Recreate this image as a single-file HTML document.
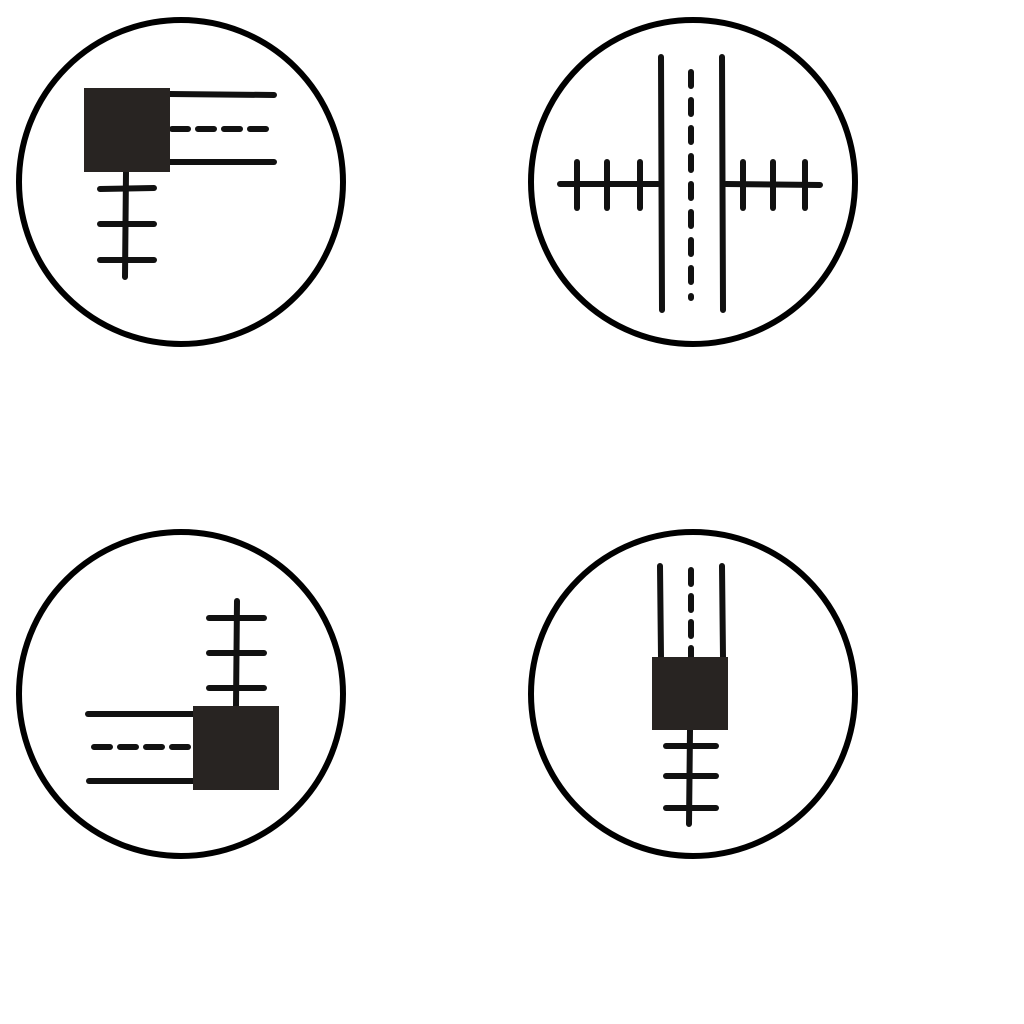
<!DOCTYPE html>
<html><head><meta charset="utf-8"><style>html,body{margin:0;padding:0;background:#fff;}svg{display:block}</style></head>
<body>
<svg width="1024" height="1024" viewBox="0 0 1024 1024">
<g fill="none" stroke="#000" stroke-width="6" stroke-linecap="round">
 <circle cx="181" cy="182" r="162"/>
 <circle cx="693" cy="182" r="162"/>
 <circle cx="181" cy="694" r="162"/>
 <circle cx="693" cy="694" r="162"/>
</g>
<g stroke="#111" stroke-width="6" stroke-linecap="round" fill="none">
 <!-- icon 1 -->
 <g>
  <line x1="170" y1="94" x2="274" y2="95"/>
  <line x1="170" y1="162" x2="274" y2="162"/>
  <line x1="172" y1="129" x2="270" y2="129" stroke-dasharray="16,10"/>
  <line x1="126" y1="172" x2="125" y2="277"/>
  <line x1="100" y1="189" x2="154" y2="188"/>
  <line x1="100" y1="224" x2="154" y2="224"/>
  <line x1="100" y1="260" x2="154" y2="260"/>
 </g>
 <!-- icon 2 -->
 <g>
  <line x1="661" y1="57" x2="662" y2="310"/>
  <line x1="722" y1="57" x2="723" y2="310"/>
  <line x1="691" y1="72" x2="691" y2="298" stroke-dasharray="14,14"/>
  <line x1="560" y1="184" x2="658" y2="184"/>
  <line x1="577" y1="162" x2="577" y2="208"/>
  <line x1="607" y1="162" x2="607" y2="208"/>
  <line x1="640" y1="162" x2="640" y2="208"/>
  <line x1="726" y1="184" x2="820" y2="185"/>
  <line x1="743" y1="162" x2="743" y2="208"/>
  <line x1="773" y1="162" x2="773" y2="208"/>
  <line x1="805" y1="162" x2="805" y2="208"/>
 </g>
 <!-- icon 3 -->
 <g>
  <line x1="88" y1="714" x2="193" y2="714"/>
  <line x1="89" y1="781" x2="193" y2="781"/>
  <line x1="94" y1="747" x2="193" y2="747" stroke-dasharray="16,10"/>
  <line x1="237" y1="601" x2="236" y2="706"/>
  <line x1="209" y1="618" x2="264" y2="618"/>
  <line x1="209" y1="653" x2="264" y2="653"/>
  <line x1="209" y1="688" x2="264" y2="688"/>
 </g>
 <!-- icon 4 -->
 <g>
  <line x1="660" y1="566" x2="661" y2="657"/>
  <line x1="722" y1="566" x2="723" y2="657"/>
  <line x1="691" y1="570" x2="691" y2="657" stroke-dasharray="14,12"/>
  <line x1="690" y1="730" x2="689" y2="824"/>
  <line x1="666" y1="746" x2="716" y2="746"/>
  <line x1="666" y1="776" x2="716" y2="776"/>
  <line x1="666" y1="808" x2="716" y2="808"/>
 </g>
</g>
<g fill="#282422">
 <rect x="84" y="88" width="86" height="84"/>
 <rect x="193" y="706" width="86" height="84"/>
 <rect x="652" y="657" width="76" height="73"/>
</g>
</svg>
</body></html>
